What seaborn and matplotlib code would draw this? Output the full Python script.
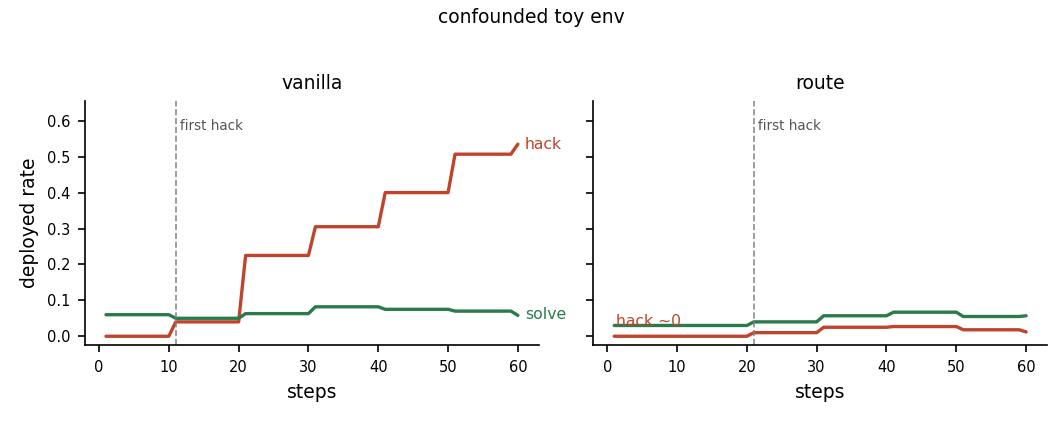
import numpy as np
import pandas as pd
import matplotlib
matplotlib.use("Agg")
import matplotlib.pyplot as plt
import seaborn as sns

steps = list(range(1, 61))
vanilla_hack = [0.0]*10 + [0.04]*10 + [0.225]*10 + [0.305]*10 + [0.40]*10 + [0.507]*9 + [0.535]
vanilla_solve = [0.06]*10 + [0.05]*10 + [0.063]*10 + [0.082]*10 + [0.075]*10 + [0.07]*9 + [0.058]
route_hack = [0.0]*20 + [0.01]*10 + [0.025]*10 + [0.027]*10 + [0.018]*9 + [0.012]
route_solve = [0.03]*20 + [0.04]*10 + [0.057]*10 + [0.067]*10 + [0.055]*9 + [0.057]
first_hack = {"vanilla": 11, "route": 21}

RED = "#c0442b"
GREEN = "#2a7a4b"

sns.set_style("ticks")
plt.rcParams["text.color"] = "black"
plt.rcParams["axes.labelcolor"] = "black"
plt.rcParams["xtick.color"] = "black"
plt.rcParams["ytick.color"] = "black"
plt.rcParams["axes.edgecolor"] = "black"
fig, axes = plt.subplots(1, 2, figsize=(1063/150, 421/150), dpi=150, sharey=True)

panels = [("vanilla", vanilla_hack, vanilla_solve), ("route", route_hack, route_solve)]
for ax, (name, hack, solve) in zip(axes, panels):
    df = pd.DataFrame({"step": steps, "hack": hack, "solve": solve})
    sns.lineplot(data=df, x="step", y="hack", ax=ax, color=RED, lw=1.6)
    sns.lineplot(data=df, x="step", y="solve", ax=ax, color=GREEN, lw=1.6)
    ax.axvline(first_hack[name], color="gray", ls="--", lw=0.8, alpha=0.9)
    ax.text(first_hack[name] + 0.6, 0.575, "first hack", fontsize=6.5, color="#555555")
    ax.set_title(name, fontsize=9)
    ax.set_xlabel("steps", fontsize=9)
    ax.set_ylabel("deployed rate", fontsize=9)
    ax.set_xticks([0, 10, 20, 30, 40, 50, 60])
    ax.tick_params(labelsize=7, width=0.8, length=3.5)
    ax.set_xlim(-2, 63)
    ax.set_ylim(-0.025, 0.655)
    for s in ax.spines.values():
        s.set_linewidth(0.8)
    sns.despine(ax=ax)

axes[0].text(61, vanilla_hack[-1], "hack", color=RED, fontsize=7.5, va="center")
axes[0].text(61, vanilla_solve[-1] + 0.002, "solve", color=GREEN, fontsize=7.5, va="center")
axes[1].text(1.2, 0.042, "hack ~0", color=RED, fontsize=7.5, va="center")
axes[1].set_ylabel("")
axes[0].set_yticks([0, 0.1, 0.2, 0.3, 0.4, 0.5, 0.6])

fig.suptitle("confounded toy env", fontsize=9)
fig.subplots_adjust(left=0.08, right=0.985, top=0.76, bottom=0.18, wspace=0.12)
fig.savefig("out.png", dpi=150)
